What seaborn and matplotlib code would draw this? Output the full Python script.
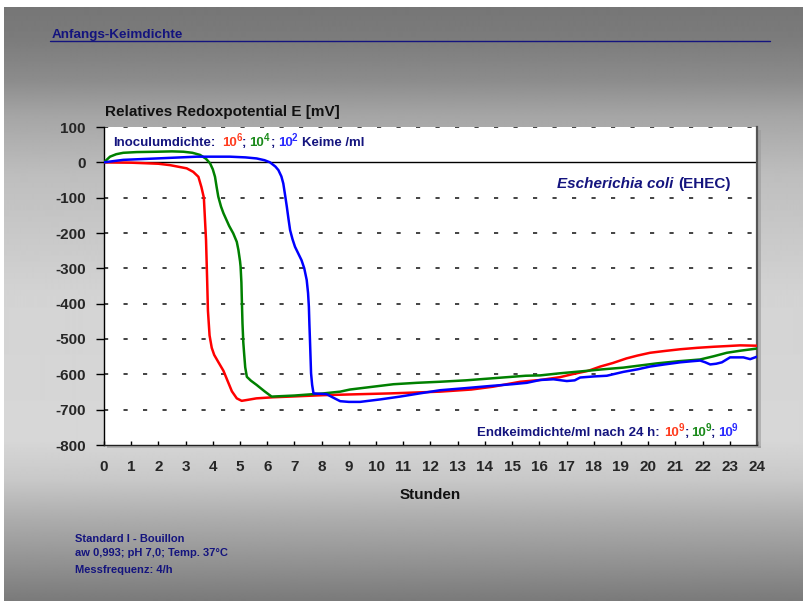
import numpy as np
import pandas as pd
import matplotlib
matplotlib.use("Agg")
import matplotlib.pyplot as plt
import seaborn as sns
from matplotlib.font_manager import FontProperties
from matplotlib.lines import Line2D

# ---------------- data ----------------
red_t = [0, 1.0, 2.0, 2.43, 3.04, 3.28, 3.47, 3.58, 3.67, 3.75, 3.79, 3.82, 3.88, 3.96, 4.05,
         4.2, 4.39, 4.55, 4.7, 4.88, 5.06, 5.3, 5.6, 6.2, 6.84, 8.05, 9.0, 10.5, 12.35, 13.5,
         14.3, 15.3, 16.03, 16.76, 17.25, 17.8, 18.24, 18.7, 19.2, 19.6, 20.07, 20.6, 21.18,
         21.8, 22.4, 22.9, 23.38, 24.0]
red_v = [0, -1, -4, -8, -17, -27, -41, -70, -100, -220, -330, -420, -490, -525, -545,
         -565, -590, -620, -648, -668, -675, -672, -668, -665, -663, -659, -657, -654, -649, -643,
         -635, -621, -616, -608, -599, -590, -578, -568, -555, -547, -539, -534, -529,
         -525, -522, -520, -518, -519]

green_t = [0, 0.22, 0.45, 0.71, 1.2, 1.94, 2.5, 2.92, 3.25, 3.53, 3.75, 3.9, 4.0, 4.08, 4.14,
           4.2, 4.3, 4.39, 4.6, 4.75, 4.88, 4.94, 5.0, 5.02, 5.05, 5.07, 5.09, 5.12, 5.15, 5.19,
           5.25, 5.4, 5.61, 5.9, 6.16, 7.0, 8.06, 8.68, 9.04, 10.0, 10.64, 11.5, 12.35, 13.3,
           14.31, 15.5, 16.03, 16.76, 17.62, 18.3, 19.09, 19.7, 20.32, 21.1, 21.91, 22.4,
           22.89, 23.4, 24.0]
green_v = [0, 16, 23, 27, 29, 30, 31, 30, 27, 21, 10, -3, -20, -41, -70,
           -97, -125, -144, -180, -201, -225, -248, -280, -295, -340, -400, -456, -510, -541, -580,
           -607, -618, -630, -648, -663, -660, -654, -649, -643, -634, -628, -624, -621, -617,
           -611, -604, -603, -597, -591, -586, -581, -575, -569, -563, -558, -549,
           -539, -533, -527]

blue_t = [0, 0.71, 1.94, 3.41, 4.63, 5.2, 5.61, 5.9, 6.1, 6.3, 6.41, 6.52, 6.59, 6.66, 6.72,
          6.78, 6.84, 6.93, 7.02, 7.14, 7.26, 7.36, 7.45, 7.5, 7.53, 7.55, 7.57, 7.59, 7.61,
          7.65, 7.7, 7.9, 8.18, 8.4, 8.68, 9.0, 9.41, 10.15, 10.88, 11.6, 12.35, 13.3, 14.19,
          15.0, 15.54, 16.03, 16.52, 17.01, 17.3, 17.5, 18.0, 18.48, 19.09, 19.6, 20.07, 20.6,
          21.18, 21.6, 21.91, 22.1, 22.28, 22.5, 22.71, 23.01, 23.5, 23.75, 24.0]
blue_v = [0, 7, 11, 16, 16, 14, 11, 6, 0, -12, -22, -40, -60, -95, -126,
          -160, -192, -218, -239, -258, -277, -300, -333, -370, -409, -460, -503, -550, -597,
          -630, -654, -655, -656, -665, -676, -678, -678, -671, -663, -654, -645, -639, -633,
          -628, -624, -616, -614, -619, -617, -609, -606, -604, -593, -586, -578, -572,
          -566, -563, -561, -566, -572, -570, -566, -552, -552, -557, -550]

series_names = ["1e6", "1e4", "1e2"]
series_colors = ["#ff0000", "#008000", "#0000ff"]
x_ticks = list(range(0, 25))
y_ticks = [100, 0, -100, -200, -300, -400, -500, -600, -700, -800]

frames = []
for name, t, v in zip(series_names, [red_t, green_t, blue_t], [red_v, green_v, blue_v]):
    frames.append(pd.DataFrame({"Stunden": t, "E": v, "Serie": name}))
df = pd.concat(frames, ignore_index=True)

# ---------------- style ----------------
sns.set_style("white")
FAM = ["Liberation Sans", "DejaVu Sans"]
plt.rcParams["font.family"] = FAM

W, H = 804, 601


def ink_extent(txt, fp):
    """horizontal ink extent (left, right) in px relative to the text anchor x"""
    tmp = plt.figure(figsize=(4, 1), dpi=100)
    tmp.patch.set_facecolor("white")
    tmp.text(0.25, 0.5, txt, fontproperties=fp, color="black", ha="left", va="baseline")
    tmp.canvas.draw()
    arr = np.asarray(tmp.canvas.buffer_rgba())[:, :, 0]
    cols = np.where((arr < 200).any(axis=0))[0]
    plt.close(tmp)
    return cols.min() - 100.0, cols.max() + 1 - 100.0


fig = plt.figure(figsize=(W / 100, H / 100), dpi=100)
fig.patch.set_facecolor("white")

# background gradient
bg = fig.add_axes([0, 0, 1, 1], zorder=-10)
ys = np.arange(H)
stops_y = [0, 7, 40, 80, 115, 175, 300, 440, 480, 520, 560, 601]
stops_g = [118, 118, 124, 140, 165, 190, 212, 215, 200, 172, 148, 122]
g = np.interp(ys, stops_y, stops_g) / 255.0
img = np.repeat(g[:, None], 2, axis=1)
bg.imshow(img, cmap="gray", vmin=0, vmax=1, aspect="auto",
          extent=[0, W, H, 0], interpolation="bilinear")
bg.add_patch(plt.Rectangle((0, 0), W, 7, color="white", lw=0))
bg.add_patch(plt.Rectangle((0, 0), 4, H, color="white", lw=0))
bg.add_patch(plt.Rectangle((758, 130), 3, 318, color="#9a9a9a", lw=0, alpha=0.6))
bg.add_patch(plt.Rectangle((107, 446), 654, 2, color="#9a9a9a", lw=0, alpha=0.6))
bg.set_xlim(0, W)
bg.set_ylim(H, 0)
bg.axis("off")

navy = "#14147e"

# main axes
ax = fig.add_axes([104 / W, 1 - 445 / H, 653 / W, 318 / H])
ax.set_facecolor("white")

for yv in y_ticks:
    if yv in (0, -800):
        continue
    ax.axhline(yv, color="#222222", lw=1.2, linestyle=(0, (2.5, 9.2)), zorder=1)
ax.axhline(0, color="black", lw=1.0, zorder=2)

sns.lineplot(data=df, x="Stunden", y="E", hue="Serie", palette=series_colors,
             estimator=None, sort=False, lw=1.8, legend=False, ax=ax, zorder=3)

ax.set_xlim(0, 24)
ax.set_ylim(-800, 100)
ax.set_xticks(x_ticks)
ax.set_yticks(y_ticks)
ax.set_xticklabels([str(x) for x in x_ticks], fontsize=11, fontweight="bold")
ax.set_yticklabels([str(y) for y in y_ticks], fontsize=11, fontweight="bold")
ax.tick_params(axis="y", direction="out", length=6, width=1, color="black", pad=7, left=True)
ax.tick_params(axis="x", direction="in", length=3, width=1, color="black", pad=11, bottom=True)
ax.set_xlabel("")
ax.set_ylabel("")
ax.spines["top"].set_visible(False)
ax.spines["left"].set_color("black")
ax.spines["left"].set_linewidth(1.0)
ax.spines["bottom"].set_color("#222222")
ax.spines["bottom"].set_linewidth(1.0)
ax.spines["right"].set_color("#555555")
ax.spines["right"].set_linewidth(1.6)

# texts
fig.text(52 / W, 1 - 35 / H, "Anfangs-Keimdichte", fontsize=9.7, fontweight="bold",
         color=navy, va="center", ha="left")
fig.add_artist(Line2D([50 / W, 770 / W], [1 - 41 / H, 1 - 41 / H], color=navy, lw=1.0,
                      transform=fig.transFigure))
fig.text(105 / W, 1 - 112 / H, "Relatives Redoxpotential E [mV]", fontsize=11,
         fontweight="bold", color="#111111", va="center", ha="left")
fig.text(430.5 / W, 1 - 495 / H, "Stunden", fontsize=11, fontweight="bold",
         color="#111111", va="center", ha="center")

notes = ["Standard I - Bouillon", "aw 0,993; pH 7,0; Temp. 37°C", "Messfrequenz: 4/h"]
for txt, yy in zip(notes, [539, 553, 570]):
    fig.text(75 / W, 1 - yy / H, txt, fontsize=8, fontweight="bold", color=navy,
             va="center", ha="left")


def rich(pieces, size, x_px, y_center_px, ha):
    """pieces: (text, color, style, is_superscript, ink_gap_before_px)"""
    cap = 0.716 * size * 100 / 72.0
    baseline = y_center_px + cap / 2.0
    placed = []
    right = 0.0
    for i, (txt, col, style, is_sup, gap) in enumerate(pieces):
        s = size * 0.74 if is_sup else size
        fp = FontProperties(family=FAM, weight="bold", style=style or "normal", size=s)
        rise = 0.36 * size * 100 / 72.0 if is_sup else 0.0
        il, ir = ink_extent(txt, fp)
        ink_left = 0.0 if i == 0 else right + gap
        xpos = ink_left - il
        right = xpos + ir
        placed.append((txt, col, fp, xpos, rise))
    shift = x_px if ha == "left" else x_px - right
    for txt, col, fp, xpos, rise in placed:
        fig.text((xpos + shift) / W, 1 - (baseline - rise) / H, txt, color=col,
                 fontproperties=fp, ha="left", va="baseline", zorder=5)


red_t_col = "#ff3c1e"
green_t_col = "#1a8a1a"
blue_t_col = "#2a2aff"

rich([("Inoculumdichte:", navy, None, False, 0),
      ("10", red_t_col, None, False, 10), ("6", red_t_col, None, True, -0.8),
      (";", navy, None, False, 2.0),
      ("10", green_t_col, None, False, 6.2), ("4", green_t_col, None, True, -0.8),
      (";", navy, None, False, 2.0),
      ("10", blue_t_col, None, False, 6.2), ("2", blue_t_col, None, True, -0.8),
      ("Keime /ml", navy, None, False, 6.5)], 9.5, 115, 141, "left")

rich([("Escherichia coli", navy, "italic", False, 0),
      ("(EHEC)", navy, None, False, 5.5)], 11, 730, 183, "right")

rich([("Endkeimdichte/ml nach 24 h:", navy, None, False, 0),
      ("10", red_t_col, None, False, 7.3), ("9", red_t_col, None, True, -0.8),
      (";", navy, None, False, 1.8),
      ("10", green_t_col, None, False, 5.6), ("9", green_t_col, None, True, -0.8),
      (";", navy, None, False, 1.8),
      ("10", blue_t_col, None, False, 5.6), ("9", blue_t_col, None, True, -0.8)],
     9.5, 737, 431, "right")

fig.savefig("out.png", dpi=100)
